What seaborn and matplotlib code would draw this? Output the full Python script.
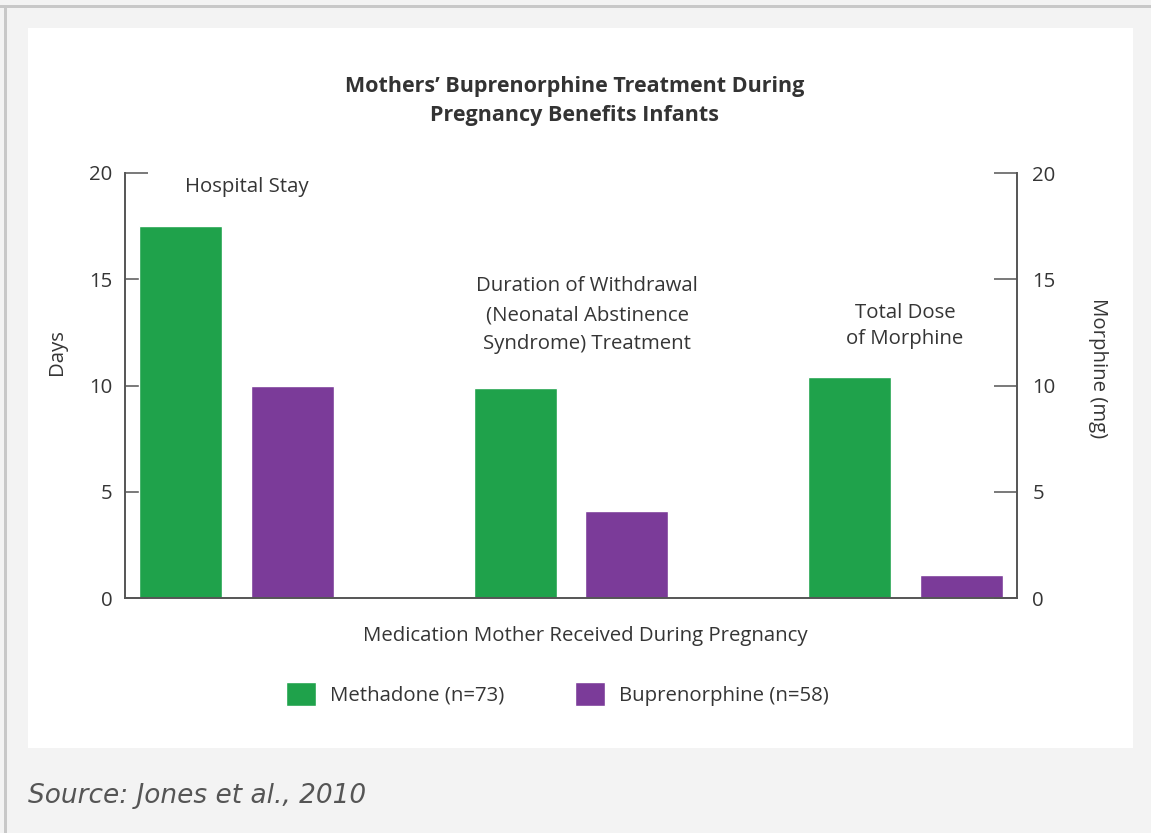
import matplotlib
matplotlib.use("Agg")
import matplotlib.pyplot as plt
from matplotlib.patches import Rectangle
import seaborn as sns
import pandas as pd

# ---- data -------------------------------------------------------------
measures = [
    "Hospital Stay",
    "Duration of Withdrawal\n(Neonatal Abstinence\nSyndrome) Treatment",
    "Total Dose\nof Morphine",
]
drugs = ["Methadone (n=73)", "Buprenorphine (n=58)"]
methadone = [17.5, 9.9, 10.4]
buprenorphine = [10.0, 4.1, 1.1]
y_ticks = [0, 5, 10, 15, 20]

GREEN = "#1fa24b"
PURPLE = "#7b3b99"
TEXT = "#353535"
AXIS = "#555555"
FS = 14.7

# long table: one bar slot per (measure, drug), with an empty slot between groups
rows = []
order = []
for i, m in enumerate(measures):
    for drug, vals in zip(drugs, [methadone, buprenorphine]):
        slot = f"{i}|{drug}"
        rows.append({"slot": slot, "drug": drug, "value": vals[i]})
        order.append(slot)
    if i < len(measures) - 1:
        order.append(f"gap{i}")
df = pd.DataFrame(rows)

# ---- figure -----------------------------------------------------------
sns.set_theme(style="white")
plt.rcParams["font.family"] = ["Open Sans", "DejaVu Sans"]

W, H = 1151, 833
fig = plt.figure(figsize=(W / 100, H / 100), dpi=100)
fig.patch.set_facecolor("#f3f3f3")


def fx(px):
    return px / W


def fy(py):
    return 1 - py / H


# white card and page border (kept beneath the axes)
fig.patches.append(Rectangle((fx(28), fy(748)), fx(1133 - 28), (748 - 28) / H,
                             transform=fig.transFigure, fc="white", ec="none", zorder=-2))
fig.patches.append(Rectangle((0, fy(8)), 1, 3 / H, transform=fig.transFigure,
                             fc="#c8c8c8", ec="none", zorder=-1))
fig.patches.append(Rectangle((fx(4), 0), 3 / W, fy(5), transform=fig.transFigure,
                             fc="#c8c8c8", ec="none", zorder=-1))

ax = fig.add_axes([fx(125), fy(598), fx(1017 - 125), (598 - 173) / H])
ax.set_facecolor("white")
sns.barplot(data=df, x="slot", y="value", hue="drug", order=order, hue_order=drugs,
            palette=[GREEN, PURPLE], dodge=False, width=0.745, saturation=1,
            errorbar=None, ax=ax)

ax.set_ylim(0, 20)
ax.set_xlim(-0.5, len(order) - 0.5)
ax.set_yticks(y_ticks)
ax.set_xticks([k + 0.5 for k in range(len(order) - 1)])
ax.set_xticklabels([])
ax.set_xlabel("")
ax.set_ylabel("")
ax.tick_params(axis="y", direction="in", length=16.5, width=1.1, color=AXIS,
               labelsize=FS, labelcolor=TEXT, pad=9)
ax.tick_params(axis="x", direction="in", length=7, width=1.1, color=AXIS)
for side in ["top", "right"]:
    ax.spines[side].set_visible(False)
for side in ["left", "bottom"]:
    ax.spines[side].set_color(AXIS)
    ax.spines[side].set_linewidth(1.4)

# right-hand axis for morphine dose (same 0-20 scale)
ax2 = ax.twinx()
ax2.set_ylim(0, 20)
ax2.set_yticks(y_ticks)
ax2.tick_params(axis="y", direction="in", length=16.5, width=1.1, color=AXIS,
                labelsize=FS, labelcolor=TEXT, pad=11)
for side in ["top", "left", "bottom"]:
    ax2.spines[side].set_visible(False)
ax2.spines["right"].set_color(AXIS)
ax2.spines["right"].set_linewidth(1.4)

# legend below the plot
sns.move_legend(ax, "center left", bbox_to_anchor=((286 - 125) / 892, (598 - 694) / 425),
                ncol=2, title=None, frameon=False, fontsize=FS, borderpad=0,
                borderaxespad=0, handlelength=1.47, handleheight=1.47,
                handletextpad=0.69, columnspacing=3.45)
for t in ax.get_legend().get_texts():
    t.set_color(TEXT)

# titles and labels
fig.text(fx(575), fy(101), "Mothers\u2019 Buprenorphine Treatment During\nPregnancy Benefits Infants",
         ha="center", va="center", fontsize=15.5, fontweight="bold", color="#333333",
         linespacing=1.55)
fig.text(fx(585), fy(636), "Medication Mother Received During Pregnancy",
         ha="center", va="center", fontsize=FS, color=TEXT)
fig.text(fx(57), fy(352), "Days", ha="center", va="center", rotation=90,
         fontsize=FS, color=TEXT)
fig.text(fx(1098), fy(368), "Morphine (mg)", ha="center", va="center", rotation=270,
         fontsize=FS, color=TEXT)

# measure captions above each group
fig.text(fx(247), fy(187), measures[0], ha="center", va="center", fontsize=FS, color=TEXT)
fig.text(fx(587), fy(315), measures[1], ha="center", va="center", fontsize=FS,
         color=TEXT, linespacing=1.6)
fig.text(fx(905), fy(326), measures[2], ha="center", va="center", fontsize=FS,
         color=TEXT, linespacing=1.45)

fig.text(fx(28), fy(803), "Source: Jones et al., 2010", ha="left", va="baseline",
         fontsize=19, style="italic", color="#555555", family="DejaVu Sans")

fig.savefig("out.png", dpi=100, facecolor=fig.get_facecolor())
